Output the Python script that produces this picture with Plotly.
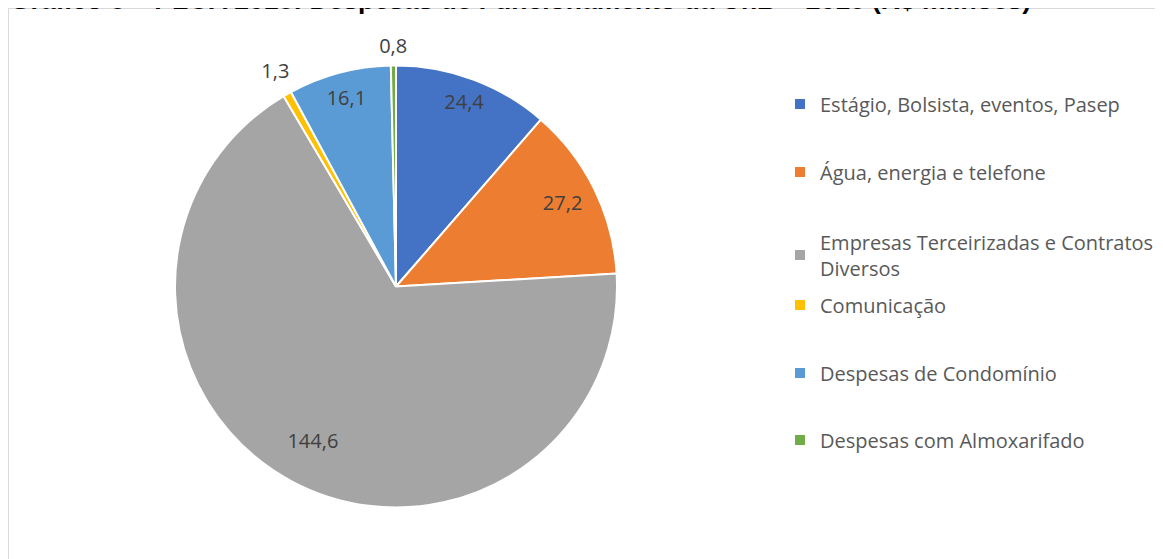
import plotly.graph_objects as go

# ---- data ----
categories = [
    "Estágio, Bolsista, eventos, Pasep",
    "Água, energia e telefone",
    "Empresas Terceirizadas e Contratos<br>Diversos",
    "Comunicação",
    "Despesas de Condomínio",
    "Despesas com Almoxarifado",
]
values = [24.4, 27.2, 144.6, 1.3, 16.1, 0.8]
title_text = "Gráfico 8 – PLOA 2018: Despesas de Funcionamento da UnB – 2018 (R$ milhões)"

# ---- style ----
colors = ["#4472C4", "#ED7D31", "#A5A5A5", "#FFC000", "#5B9BD5", "#70AD47"]
label_radius = [0.88, 0.84, 0.80, 1.11, 0.875, 1.08]
legend_y_px = [96, 164, 247, 297, 365, 432]
W, H = 1163, 559
pie_cx, pie_cy, pie_r = 388, 278.5, 221
R_MAX = 1.2  # radial range so outside labels stay inside the polar area
FONT = "Open Sans"

total = sum(values)
spans = [v / total * 360 for v in values]
mids = []
acc = 0
for s in spans:
    mids.append(acc + s / 2)
    acc += s

fig = go.Figure()
for i, (cat, v) in enumerate(zip(categories, values)):
    fig.add_trace(go.Barpolar(
        r=[1], theta=[mids[i]], width=[spans[i]],
        name=cat,
        marker=dict(color=colors[i], line=dict(color="white", width=2)),
        hoverinfo="skip",
        legend="legend" if i == 0 else f"legend{i+1}",
    ))

fig.add_trace(go.Scatterpolar(
    r=label_radius, theta=mids, mode="text",
    text=[f"{v:.1f}".replace(".", ",") for v in values],
    textfont=dict(family=FONT, size=20, color="#404040"),
    cliponaxis=False, showlegend=False, hoverinfo="skip",
))

dom_r = pie_r * R_MAX
layout = dict(
    width=W, height=H,
    margin=dict(l=0, r=0, t=0, b=0),
    paper_bgcolor="white",
    plot_bgcolor="white",
    polar=dict(
        domain=dict(x=[(pie_cx - dom_r) / W, (pie_cx + dom_r) / W],
                    y=[1 - (pie_cy + dom_r) / H, 1 - (pie_cy - dom_r) / H]),
        bgcolor="rgba(0,0,0,0)",
        radialaxis=dict(visible=False, range=[0, R_MAX]),
        angularaxis=dict(visible=False, rotation=90, direction="clockwise"),
        hole=0,
    ),
    shapes=[dict(type="rect", xref="paper", yref="paper",
                 x0=0.5 / W, x1=1.02, y0=-0.02, y1=1 - 0.5 / H,
                 line=dict(color="#D9D9D9", width=1), layer="below")],
    annotations=[dict(text="<b>" + title_text + "</b>", xref="paper", yref="paper",
                      x=0, y=1 - 9 / H, xanchor="left", yanchor="bottom",
                      showarrow=False,
                      font=dict(family="Liberation Sans", size=26.5, color="black"))],
)
for i in range(len(categories)):
    key = "legend" if i == 0 else f"legend{i+1}"
    layout[key] = dict(x=772 / W, y=1 - legend_y_px[i] / H, xanchor="left", yanchor="middle",
                       bgcolor="rgba(0,0,0,0)",
                       font=dict(family=FONT, size=20, color="#595959"))
fig.update_layout(**layout)
fig.write_html("out.html")
